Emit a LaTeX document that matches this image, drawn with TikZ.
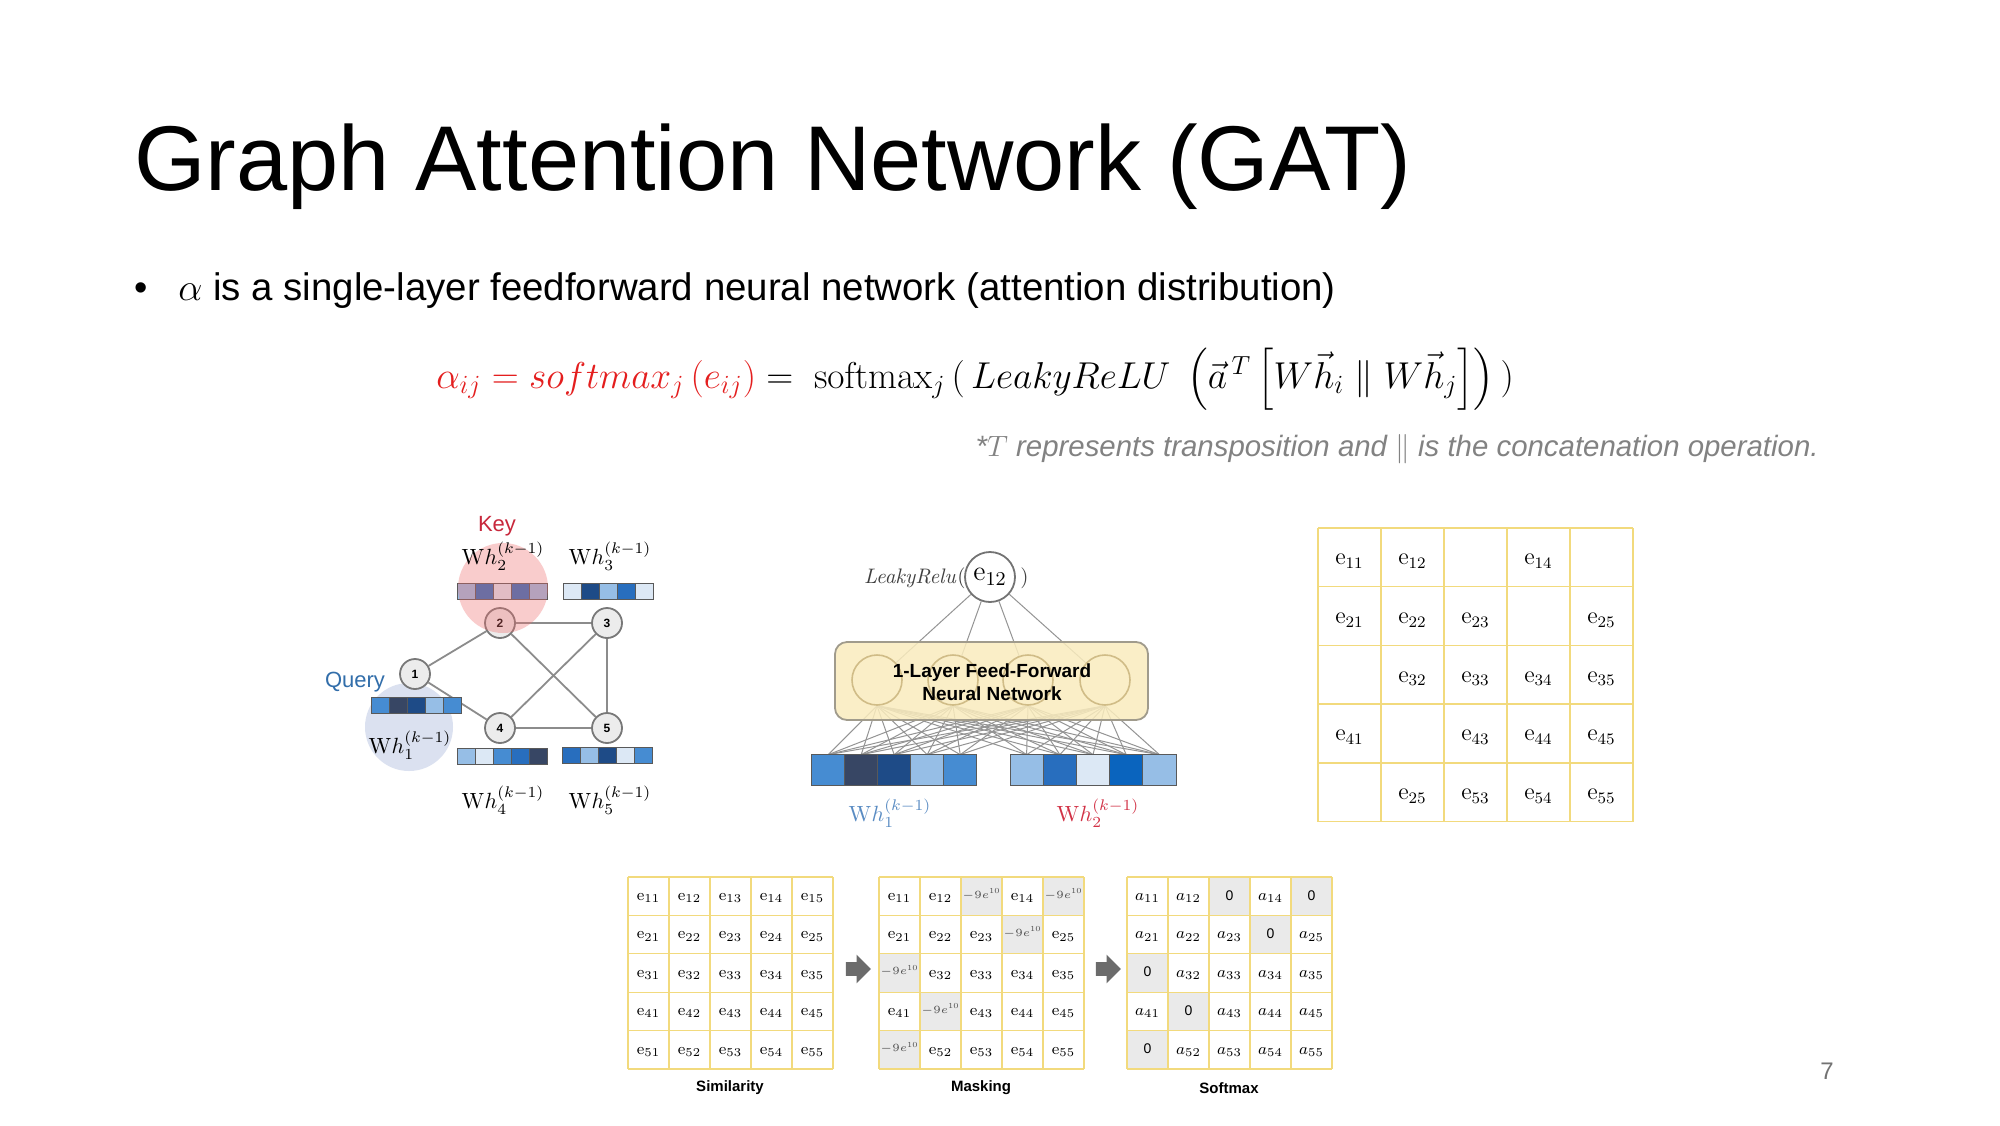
\RequirePackage{fix-cm}
\documentclass[tikz,border=0pt]{standalone}
\usepackage[no-math]{fontspec}
\usepackage{amsmath}
\setmainfont{Liberation Sans}
\usetikzlibrary{backgrounds,shapes.arrows}
\definecolor{eqred}{RGB}{228,30,30}
\definecolor{notegray}{RGB}{130,130,130}
\definecolor{keyred}{RGB}{200,40,60}
\definecolor{queryblue}{RGB}{50,110,170}
\definecolor{nodefill}{RGB}{236,236,236}
\definecolor{nodeedge}{RGB}{120,120,120}
\definecolor{edgegray}{RGB}{140,140,140}
\definecolor{cvl}{RGB}{220,232,245}
\definecolor{cl}{RGB}{150,190,230}
\definecolor{cm}{RGB}{70,140,210}
\definecolor{cs}{RGB}{40,110,190}
\definecolor{cn}{RGB}{30,75,135}
\definecolor{csl}{RGB}{55,70,100}
\definecolor{cb}{RGB}{10,100,190}
\definecolor{boxfill}{RGB}{250,236,190}
\definecolor{boxedge}{RGB}{160,155,140}
\definecolor{hidcirc}{RGB}{208,188,135}
\definecolor{gold}{RGB}{242,218,125}
\definecolor{maskgray}{RGB}{234,234,234}
\definecolor{whblue}{RGB}{90,140,195}
\definecolor{whred}{RGB}{210,50,70}
\newcommand\cellrow[6]{%
  \foreach \cc [count=\ii] in {#6} {%
    \node[vcell, minimum width=#4*0.5pt, minimum height=#5*0.5pt, fill=\cc] (#1\ii) at ({#2+(\ii-0.5)*#4},#3) {};}}
\begin{document}
\begin{tikzpicture}[x=0.5pt,y=-0.5pt,
  vcell/.style={draw=black!65, line width=0.4pt, inner sep=0pt, outer sep=0pt},
  gnode/.style={circle, draw=nodeedge, fill=nodefill, line width=0.9pt, minimum size=15pt, inner sep=0pt, font=\fontsize{6}{7}\selectfont\bfseries},
  gedge/.style={draw=edgegray, line width=0.9pt},
  whlab/.style={font=\fontsize{11}{13}\selectfont, inner sep=0pt},
  hid/.style={circle, draw=hidcirc, line width=0.8pt, minimum size=25pt, inner sep=0pt},
  nnline/.style={draw=black!42, line width=0.5pt},
  rme/.style={font=\fontsize{12}{14}\selectfont, inner sep=0pt},
  bme/.style={font=\fontsize{8}{10}\selectfont, inner sep=0pt},
  mgrid/.style={draw=gold, line width=0.7pt},
  bgrid/.style={draw=gold, line width=0.6pt},
  capstyle/.style={font=\fontsize{7.5}{9}\selectfont\bfseries, inner sep=0pt},
  garrow/.style={single arrow, fill=black!58, draw=none, minimum height=12.5pt, inner xsep=0pt, inner ysep=3.25pt, single arrow head extend=3.75pt}
]
\useasboundingbox (0,0) rectangle (2000,1125);
\begin{scope}[on background layer]
  \fill[white] (0,0) rectangle (2000,1125);
\end{scope}

% ---------- header ----------
\node[anchor=base west, inner sep=0pt] (title) at (134,190) {\fontsize{46}{54}\selectfont Graph Attention Network (GAT)};
\node[anchor=base west, inner sep=0pt] (bullet) at (134,300) {\fontsize{19}{22}\selectfont •};
\node[anchor=base west, inner sep=0pt] (btext) at (178,300) {\fontsize{19.2}{22}\selectfont $\alpha$ is a single-layer feedforward neural network (attention distribution)};
\node[anchor=west, inner sep=0pt] (formula) at (436,379) {\fontsize{18.7}{22}\selectfont
  $\color{eqred}\alpha_{ij} = softmax_j\left(e_{ij}\right)\color{black}=\;\mathrm{softmax}_j\,(\,LeakyReLU\;\left(\vec{a}^{\,T}\left[W\vec{h}_i \parallel W\vec{h}_j\right]\right)\,)$};
\node[anchor=base east, inner sep=0pt, text=notegray] (note) at (1819,456) {\fontsize{14.7}{17}\selectfont\itshape *$T$ represents transposition and $\|$ is the concatenation operation.};

% ---------- graph ----------
\node[gnode] (n1) at (415,674) {1};
\node[gnode] (n2) at (500,623) {2};
\node[gnode] (n3) at (607,623) {3};
\node[gnode] (n4) at (500,728) {4};
\node[gnode] (n5) at (607,728) {5};
\cellrow{va}{371}{705}{18}{16}{cm,csl,cn,cl,cm}
\cellrow{vb}{457}{591}{18}{16}{cl,cs,cvl,cs,cl}
\cellrow{vc}{563}{591}{18}{16}{cvl,cn,cl,cs,cvl}
\cellrow{vd}{457}{756}{18}{16}{cl,cvl,cm,cs,csl}
\cellrow{ve}{562}{755}{18}{16}{cs,cl,cn,cvl,cm}
\begin{scope}[on background layer]
  \fill[fill={rgb,255:red,170;green,185;blue,220}, fill opacity=0.42] (409,727) circle[radius=44];
  \draw[gedge] (n1) -- (n2);
  \draw[gedge] (n1) -- (n4);
  \draw[gedge] (n2) -- (n3);
  \draw[gedge] (n2) -- (n5);
  \draw[gedge] (n3) -- (n4);
  \draw[gedge] (n3) -- (n5);
  \draw[gedge] (n4) -- (n5);
\end{scope}
\fill[fill={rgb,255:red,240;green,110;blue,110}, fill opacity=0.35] (503,588) circle[radius=45];
\node[text=keyred, font=\fontsize{11}{13}\selectfont, inner sep=0pt] (key) at (497,526) {Key};
\node[text=queryblue, font=\fontsize{11}{13}\selectfont, inner sep=0pt] (query) at (355,682) {Query};
\node[whlab] (w2) at (503,556) {$\mathrm{W}h_2^{(k-1)}$};
\node[whlab] (w3) at (610,556) {$\mathrm{W}h_3^{(k-1)}$};
\node[whlab] (w1) at (410,745) {$\mathrm{W}h_1^{(k-1)}$};
\node[whlab] (w4) at (503,800) {$\mathrm{W}h_4^{(k-1)}$};
\node[whlab] (w5) at (610,800) {$\mathrm{W}h_5^{(k-1)}$};

% ---------- feed-forward ----------
\node[circle, draw=black!55, fill=white, line width=0.9pt, minimum size=25pt, inner sep=0pt, font=\fontsize{14}{16}\selectfont] (e12) at (990,577) {$\mathrm{e}_{12}$};
\node[anchor=east, inner sep=0pt, text=black!75, font=\fontsize{10.5}{12}\selectfont] (lrelu) at (966,578) {$\mathit{LeakyRelu}($};
\node[anchor=west, inner sep=0pt, text=black!75, font=\fontsize{10.5}{12}\selectfont] (lrelur) at (1020,578) {$)$};
\node[hid] (h1) at (877,680) {};
\node[hid] (h2) at (953,680) {};
\node[hid] (h3) at (1028,680) {};
\node[hid] (h4) at (1105,680) {};
\cellrow{L}{811.7}{770}{33}{30.7}{cm,csl,cn,cl,cm}
\cellrow{R}{1010}{770}{33.2}{30.7}{cl,cs,cvl,cb,cl}
\begin{scope}[on background layer]
  \foreach \h in {h1,h2,h3,h4} {
    \draw[nnline] (e12) -- (\h);
    \foreach \k in {1,...,5} {
      \draw[nnline] (\h.south) -- (L\k.north);
      \draw[nnline] (\h.south) -- (R\k.north);
    }
  }
  \node[draw=boxedge, fill=boxfill, fill opacity=0.85, line width=0.9pt, rounded corners=6pt, minimum width=156.5pt, minimum height=39pt] (ffn) at (991.5,681) {};
\end{scope}
\node[align=center, inner sep=0pt, font=\fontsize{9.5}{11.5}\selectfont\bfseries] (ffntext) at (992,682) {1-Layer Feed-Forward\\Neural Network};
\node[whlab, text=whblue] (wl1) at (890,813) {$\mathrm{W}h_1^{(k-1)}$};
\node[whlab, text=whred] (wl2) at (1098,813) {$\mathrm{W}h_2^{(k-1)}$};

% ---------- right matrix ----------
\foreach \k in {0,...,5} {
  \draw[mgrid] ({1318+63*\k},528) -- ({1318+63*\k},821.5);
  \draw[mgrid] (1318,{528+58.7*\k}) -- (1633,{528+58.7*\k});
}
\foreach \r/\c/\t in {1/1/11,1/2/12,1/4/14,2/1/21,2/2/22,2/3/23,2/5/25,3/2/32,3/3/33,3/4/34,3/5/35,4/1/41,4/3/43,4/4/44,4/5/45,5/2/25,5/3/53,5/4/54,5/5/55}
  \node[rme] (rm\r\c) at ({1318+63*(\c-0.5)},{528+58.7*(\r-0.5)+4}) {$\mathrm{e}_{\t}$};

% ---------- bottom matrices ----------
\foreach \r/\c in {1/3,1/5,2/4,3/1,4/2,5/1} {
  \fill[maskgray] ({879+41*(\c-1)},{877+38.4*(\r-1)}) rectangle ++(41,38.4);
  \fill[maskgray] ({1127+41*(\c-1)},{877+38.4*(\r-1)}) rectangle ++(41,38.4);
}
\foreach \x in {628,879,1127} {
  \foreach \k in {0,...,5} {
    \draw[bgrid] ({\x+41*\k},877) -- ({\x+41*\k},1069);
    \draw[bgrid] (\x,{877+38.4*\k}) -- ({\x+205},{877+38.4*\k});
  }
}
\foreach \r in {1,...,5} {
  \foreach \c in {1,...,5} {
    \pgfmathtruncatemacro\m{((\r==1)&&((\c==3)||(\c==5)))||((\r==2)&&(\c==4))||((\r==3)&&(\c==1))||((\r==4)&&(\c==2))||((\r==5)&&(\c==1))}
    \node[bme] (sim\r\c) at ({628+41*(\c-0.5)},{877+38.4*(\r-0.5)+2}) {$\mathrm{e}_{\r\c}$};
    \ifnum\m=1
      \node[bme, font=\fontsize{5.5}{6}\selectfont, text=black!70] (msk\r\c) at ({879+41*(\c-0.5)},{877+38.4*(\r-0.5)-2}) {$-9e^{10}$};
      \node[bme, font=\fontsize{7}{8}\selectfont] (smx\r\c) at ({1127+41*(\c-0.5)},{877+38.4*(\r-0.5)-1}) {0};
    \else
      \node[bme] (msk\r\c) at ({879+41*(\c-0.5)},{877+38.4*(\r-0.5)+2}) {$\mathrm{e}_{\r\c}$};
      \node[bme] (smx\r\c) at ({1127+41*(\c-0.5)},{877+38.4*(\r-0.5)+2}) {$a_{\r\c}$};
    \fi
  }
}
\node[capstyle] (capsim) at (730,1088) {Similarity};
\node[capstyle] (capmsk) at (981,1088) {Masking};
\node[capstyle] (capsmx) at (1229,1088) {Softmax};
\node[garrow] (ar1) at (855,969) {};
\node[garrow] (ar2) at (1105,969) {};

\node[text=black!55, font=\fontsize{12}{14}\selectfont, inner sep=0pt] (pnum) at (1827,1071) {7};
\end{tikzpicture}
\end{document}
